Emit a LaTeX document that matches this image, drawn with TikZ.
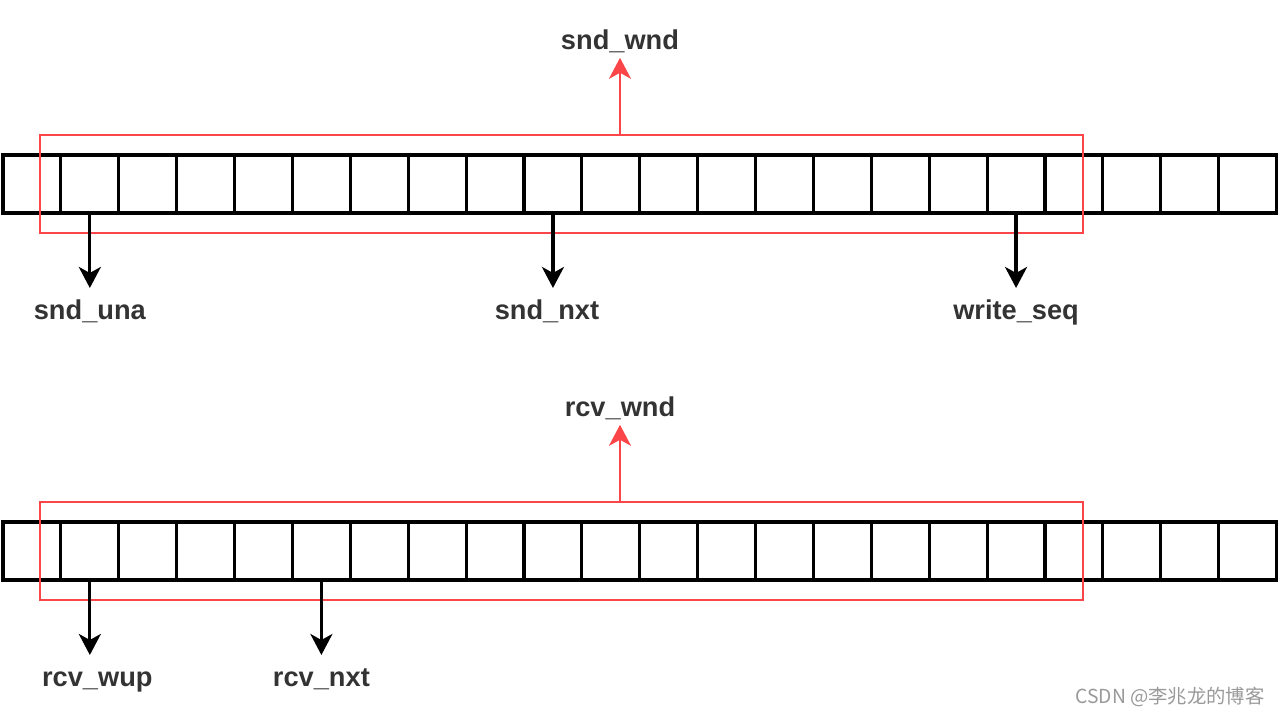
\documentclass[tikz,border=0pt]{standalone}
\usepackage{fontspec}
\usepackage{tikz}
\usetikzlibrary{positioning}
\usetikzlibrary{arrows.meta}
\newfontfamily\lblfont{Liberation Sans}
\newfontfamily\cjkfont{Noto Sans CJK SC}
\definecolor{winred}{RGB}{250,70,72}
\definecolor{lblgray}{RGB}{51,51,51}

\tikzset{
  cell/.style={draw, line width=1.8pt, minimum width=1.158cm, minimum height=1.16cm, inner sep=0pt, outer sep=0pt},
  wnd/.style={draw=winred, line width=1.4pt, minimum width=20.86cm, minimum height=1.96cm, inner sep=0pt},
  lbl/.style={font=\lblfont\bfseries\fontsize{15.5}{18}\selectfont, text=lblgray, inner sep=0pt, text height=0.75em, text depth=0.25em, outer sep=10.5pt},
  wlbl/.style={lbl, outer sep=2pt},
  ptr/.style={line width=1.8pt, -{Stealth[length=0.42cm, width=0.44cm, inset=0.12cm]}},
  wptr/.style={draw=winred, line width=1.4pt, -{Stealth[length=0.42cm, width=0.44cm, inset=0.12cm]}}
}

\begin{document}
\begin{tikzpicture}[x=0.02cm, y=-0.02cm, node distance=0]
    \useasboundingbox (0,0) rectangle (1280,716);

    % send buffer
    \node [cell] (s1) at (31.95,184) {};
    \foreach \i [remember=\i as \j (initially 1)] in {2,...,22}
        \node [cell, right=of s\j] (s\i) {};
    \node [wnd] (swin) at (561.5,184) {};

    \node [wlbl, above=1.52cm of swin, xshift=1.17cm] (sndwnd) {snd\_wnd};
    \draw [wptr] (swin.north -| sndwnd.south) -- (sndwnd.south);

    \node [lbl, below=1.5cm of s2] (snduna) {snd\_una};
    \node [lbl, below=1.5cm of s10, xshift=-0.12cm] (sndnxt) {snd\_nxt};
    \node [lbl, below=1.5cm of s18] (writeseq) {write\_seq};
    \draw [ptr] (s2.south) -- (s2.south |- snduna.north);
    \draw [ptr] (s10.south) -- (s10.south |- sndnxt.north);
    \draw [ptr] (s18.south) -- (s18.south |- writeseq.north);

    % receive buffer
    \node [cell] (r1) at (31.95,551) {};
    \foreach \i [remember=\i as \j (initially 1)] in {2,...,22}
        \node [cell, right=of r\j] (r\i) {};
    \node [wnd] (rwin) at (561.5,551) {};

    \node [wlbl, above=1.52cm of rwin, xshift=1.17cm] (rcvwnd) {rcv\_wnd};
    \draw [wptr] (rwin.north -| rcvwnd.south) -- (rcvwnd.south);

    \node [lbl, below=1.5cm of r2, xshift=0.15cm] (rcvwup) {rcv\_wup};
    \node [lbl, below=1.5cm of r6] (rcvnxt) {rcv\_nxt};
    \draw [ptr] (r2.south) -- (r2.south |- rcvwup.north);
    \draw [ptr] (r6.south) -- (r6.south |- rcvnxt.north);

    % watermark
    \node [font=\cjkfont\fontsize{11}{13}\selectfont, text=black!40, inner sep=0pt] (mark) at (1170,697) {CSDN @李兆龙的博客};
\end{tikzpicture}
\end{document}
